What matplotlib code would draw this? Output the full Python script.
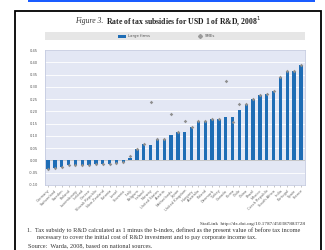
import numpy as np
import matplotlib.pyplot as plt
from matplotlib.patches import Rectangle

# Countries, ordered by large-firm subsidy rate
countries = [
    "Germany", "Switzerland", "Sweden", "Finland", "Luxembourg", "Iceland",
    "Greece", "Slovak Republic", "New Zealand", "Estonia", "Israel", "Slovenia",
    "Italy", "Belgium", "Ireland", "Norway", "United States", "Austria",
    "Netherlands", "Japan", "United Kingdom", "Hungary", "Australia", "Poland",
    "Denmark", "Turkey", "Canada", "Korea", "Chile", "China", "Brazil",
    "Mexico", "Czech Republic", "South Africa", "India", "Portugal", "Spain",
    "France",
]

large_firms = [
    -0.035, -0.030, -0.027, -0.018, -0.018, -0.017,
    -0.017, -0.016, -0.015, -0.015, -0.012, -0.008,
    0.010, 0.048, 0.068, 0.064, 0.088, 0.088,
    0.102, 0.116, 0.116, 0.136, 0.160, 0.160,
    0.167, 0.170, 0.177, 0.177, 0.204, 0.228, 0.252,
    0.268, 0.272, 0.283, 0.338, 0.364, 0.364,
    0.390,
]

smes = [
    -0.035, -0.030, -0.027, -0.018, -0.018, -0.017,
    -0.017, -0.016, -0.015, -0.015, -0.012, -0.008,
    0.020, 0.048, 0.068, 0.237, 0.088, 0.088,
    0.188, 0.116, 0.159, 0.136, 0.160, 0.160,
    0.167, 0.170, 0.324, 0.156, 0.232, 0.228, 0.252,
    0.268, 0.272, 0.283, 0.338, 0.364, 0.364,
    0.390,
]

yticks = [-0.10, -0.05, 0.00, 0.05, 0.10, 0.15, 0.20, 0.25, 0.30, 0.35, 0.40, 0.45]

W, H = 325, 250
fig = plt.figure(figsize=(W / 100, H / 100), dpi=100)
fig.patch.set_facecolor("white")

def fx(px):
    return px / W

def fy(py):
    return 1 - py / H

# blue strip at the very top and the black frame
fig.add_artist(Rectangle((fx(28), fy(2)), fx(287), 2 / H, transform=fig.transFigure,
                         facecolor="#1a5cff", edgecolor="none"))
fig.add_artist(Rectangle((fx(15), fy(260)), fx(306), 249 / H, transform=fig.transFigure,
                         facecolor="none", edgecolor="black", linewidth=1.3))

serif = "Liberation Serif"
sans = "DejaVu Sans"

# title
fig.text(fx(75), fy(21), "Figure 3.", family=serif, style="italic", fontsize=5.5,
         color="#333333", va="center", ha="left")
fig.text(fx(106), fy(21), "Rate of tax subsidies for USD 1 of R&D, 2008$^1$", family=serif,
         weight="bold", fontsize=5.6, color="#222222", va="center", ha="left")

# legend band
fig.add_artist(Rectangle((fx(45), fy(40)), fx(260), 8 / H, transform=fig.transFigure,
                         facecolor="#e6e6e6", edgecolor="none"))
fig.add_artist(Rectangle((fx(118), fy(37.5)), fx(8), 3 / H, transform=fig.transFigure,
                         facecolor="#1f6db5", edgecolor="none"))
fig.text(fx(128), fy(36), "Large firms", family=sans, fontsize=2.8, color="#555555",
         va="center", ha="left")
fig.lines.append(plt.Line2D([fx(200)], [fy(36)], transform=fig.transFigure, marker="D",
                            markersize=2, color="#9a9a9a", linestyle="none"))
fig.text(fx(205), fy(36), "SMEs", family=sans, fontsize=2.8, color="#555555",
         va="center", ha="left")

# plot area
ax = fig.add_axes([fx(45), fy(185), fx(260), 135 / H])
ax.set_facecolor("#e3e7f4")
x = np.arange(len(countries))
ax.set_axisbelow(True)
ax.yaxis.grid(True, color="white", linewidth=0.6)
ax.bar(x, large_firms, width=0.5, color="#1f6db5", zorder=2)
ax.plot(x, smes, linestyle="none", marker="D", markersize=1.8, color="#8f8f8f",
        markeredgewidth=0, zorder=3)
ax.axhline(0, color="#b0b0b0", linewidth=0.5, zorder=1)

ax.set_xlim(-0.45, len(countries) - 0.4)
ax.set_ylim(-0.10, 0.45)
ax.set_yticks(yticks)
ax.set_yticklabels([f"{v:.2f}" for v in yticks], family=sans, fontsize=2.6, color="#555555")
ax.set_xticks(x)
ax.set_xticklabels(countries, rotation=45, ha="right", rotation_mode="anchor",
                   family=sans, fontsize=2.6, color="#666666")
ax.tick_params(axis="y", length=0, pad=5)
ax.tick_params(axis="x", length=1.2, width=0.4, color="#999999", pad=1.5)
for s in ax.spines.values():
    s.set_color("#c5cbe0")
    s.set_linewidth(0.6)

# notes
fig.text(fx(305), fy(224), "StatLink  http://dx.doi.org/10.1787/450387883728", family=serif,
         fontsize=3.7, color="#333333", ha="right", va="center")
fig.text(fx(27), fy(230), "1.  Tax subsidy to R&D calculated as 1 minus the b-index, defined as the present value of before tax income",
         family=serif, fontsize=4.5, color="#333333", ha="left", va="center")
fig.text(fx(37), fy(237), "necessary to cover the initial cost of R&D investment and to pay corporate income tax.",
         family=serif, fontsize=4.5, color="#333333", ha="left", va="center")
fig.text(fx(28), fy(246), "Source:  Warda, 2008, based on national sources.",
         family=serif, fontsize=4.5, color="#333333", ha="left", va="center")

fig.savefig("out.png", dpi=100)
